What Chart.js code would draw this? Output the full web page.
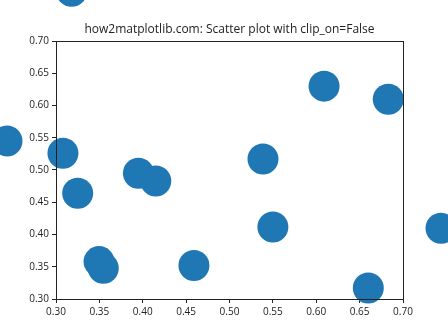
<!DOCTYPE html>
<html><head><meta charset="utf-8">
<script src="https://cdn.jsdelivr.net/npm/chart.js@4"></script>
<style>html,body{margin:0;padding:0;background:#fff}#w{width:448px;height:336px}</style>
</head><body><div id="w"><canvas id="c" width="448" height="336"></canvas></div>
<script>
const titleText = "how2matplotlib.com: Scatter plot with clip_on=False";
const xValues = [0.318, 0.2435, 0.308, 0.325, 0.395, 0.415, 0.3496, 0.3545, 0.459, 0.5386, 0.550, 0.609, 0.683, 0.7438, 0.660];
const yValues = [0.777, 0.545, 0.526, 0.464, 0.495, 0.483, 0.358, 0.3476, 0.352, 0.517, 0.4116, 0.630, 0.6096, 0.4096, 0.317];
const xTicks = [0.30, 0.35, 0.40, 0.45, 0.50, 0.55, 0.60, 0.65, 0.70];
const yTicks = [0.30, 0.35, 0.40, 0.45, 0.50, 0.55, 0.60, 0.65, 0.70];

const FONT = "'Open Sans', 'Noto Sans', sans-serif";
const points = xValues.map((x, i) => ({x: x, y: yValues[i]}));

// clip_on=False: let points outside the axes area be drawn
const PE = Chart.PointElement || (Chart.elements && Chart.elements.PointElement);
const origDraw = PE.prototype.draw;
PE.prototype.draw = function (ctx) { return origDraw.call(this, ctx, undefined); };

const frame = {
  id: 'frame',
  afterDatasetsDraw(chart) {
    const a = chart.chartArea, ctx = chart.ctx;
    ctx.save();
    ctx.strokeStyle = '#222';
    ctx.lineWidth = 1;
    ctx.strokeRect(Math.round(a.left) + 0.5, Math.round(a.top) + 0.5, Math.round(a.right - a.left), Math.round(a.bottom - a.top));
    ctx.restore();
  }
};

function axisCfg(ticksArr, fit) {
  return {
    type: 'linear',
    min: ticksArr[0], max: ticksArr[ticksArr.length - 1],
    afterBuildTicks(s) { s.ticks = ticksArr.map(v => ({value: v})); },
    afterFit: fit,
    grid: {display: true, drawOnChartArea: false, drawTicks: true, tickLength: 4, color: '#222', tickWidth: 1},
    border: {display: true, color: '#222', width: 1},
    ticks: {color: '#222', padding: 3, font: {family: FONT, size: 10}, callback: v => Number(v).toFixed(2), maxRotation: 0, autoSkip: false}
  };
}

new Chart(document.getElementById('c'), {
  type: 'scatter',
  data: {datasets: [{
    data: points,
    clip: false,
    backgroundColor: '#1f77b4',
    borderWidth: 0,
    pointRadius: 15.5,
    pointHoverRadius: 15.5
  }]},
  options: {
    responsive: false,
    animation: false,
    devicePixelRatio: 1,
    events: [],
    layout: {padding: {left: 11, right: 0, top: 0, bottom: 0}},
    plugins: {
      legend: {display: false},
      tooltip: {enabled: false},
      title: {display: true, text: titleText, color: '#222', font: {family: FONT, size: 12, weight: 'normal'}, padding: {top: 22, bottom: 4.6}}
    },
    scales: {
      x: axisCfg(xTicks, s => { s.height = 37; }),
      y: axisCfg(yTicks, s => { s.width = 45; }),
      yRight: {
        type: 'linear', position: 'right', display: true,
        afterFit(s) { s.width = 45; },
        ticks: {display: false}, grid: {display: false, drawTicks: false}, border: {display: false}
      }
    }
  },
  plugins: [frame]
});
</script>
</body></html>
